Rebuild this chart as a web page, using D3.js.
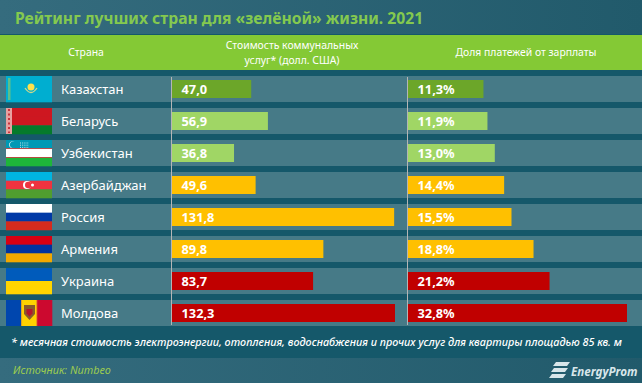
<!DOCTYPE html>
<html>
<head>
<meta charset="utf-8">
<script src="https://cdn.jsdelivr.net/npm/d3@7"></script>
<style>
  html,body{margin:0;padding:0;background:#15586a;overflow:hidden}
  svg{display:block}
  text{font-family:"Noto Sans",sans-serif}
</style>
</head>
<body>
<div class="chart"></div>
<script>
const countries = ["Казахстан","Беларусь","Узбекистан","Азербайджан","Россия","Армения","Украина","Молдова"];
const costs = [47.0,56.9,36.8,49.6,131.8,89.8,83.7,132.3];
const shares = [11.3,11.9,13.0,14.4,15.5,18.8,21.2,32.8];
const barColors = ["#6ca629","#a0d665","#a0d665","#ffc000","#ffc000","#ffc000","#c00000","#c00000"];
const shareColors = ["#6ca629","#a0d665","#a0d665","#ffc000","#ffc000","#ffc000","#c00000","#c00000"];
// horizontal stripes of each flag, top to bottom
const flagStripes = [
  ["#00aed0"],
  ["#ce1720","#ce1720","#057a2b"],
  ["#0099b5","#ffffff","#1eb53a"],
  ["#00b5e2","#ef3340","#509e2f"],
  ["#ffffff","#0039a6","#d52b1e"],
  ["#d90012","#0033a0","#f2a800"],
  ["#005bbb","#ffd500"],
  ["#0046ae","#ffd200","#cc092f"]
];

const chart = {width:642,height:383};

const svg = d3.select(".chart").append("svg")
  .attr("width",chart.width)
  .attr("height",chart.height);

const defs = svg.append("defs");
const grad = defs.append("linearGradient").attr("id","bg");
grad.append("stop").attr("offset","0").attr("stop-color","#356c7e");
grad.append("stop").attr("offset","1").attr("stop-color","#215a6b");

// background bands
svg.append("rect").attr("width",chart.width).attr("height",chart.height).attr("fill","#15586a");
svg.append("rect").attr("width",chart.width).attr("height",34).attr("fill","url(#bg)");
svg.append("rect").attr("y",358).attr("width",chart.width).attr("height",25).attr("fill","url(#bg)");
svg.append("rect").attr("y",35).attr("width",chart.width).attr("height",35).attr("fill","#84c935");

svg.append("text").attr("x",15).attr("y",24)
  .attr("font-size",15.7).attr("font-weight",700).attr("fill","#84c94f")
  .text("Рейтинг лучших стран для «зелёной» жизни. 2021");

// header labels
const head = svg.append("g").attr("fill","#fff").attr("font-size",10.4).attr("text-anchor","middle");
head.append("text").attr("x",86).attr("y",56).text("Страна");
head.append("text").attr("x",292).attr("y",49).text("Стоимость коммунальных");
head.append("text").attr("x",292).attr("y",64).text("услуг* (долл. США)");
head.append("text").attr("x",526).attr("y",56).text("Доля платежей от зарплаты");

// scales
const yScale = d3.scaleBand().domain(countries).range([76,326]).paddingInner(0.1875).paddingOuter(0).align(0);
const xCost = d3.scaleLinear().domain([0,132.3]).range([172,395]);
const xShare = d3.scaleLinear().domain([0,32.8]).range([408,627]);
const fmt = v => d3.format(".1f")(v).replace(".",",");

const rows = svg.selectAll(".row").data(countries).enter().append("g")
  .attr("class","row")
  .attr("transform",d=>`translate(0,${yScale(d)})`);

rows.append("rect").attr("width",chart.width).attr("height",yScale.bandwidth()).attr("fill","#467a87");

// flags
const flagW = 46, flagH = 26;
rows.each(function(d,i){
  const g = d3.select(this).append("g").attr("transform","translate(6,0)");
  const st = flagStripes[i];
  if(i===7){
    const fx = d3.scaleBand().domain(d3.range(3)).range([0,flagW]);
    g.selectAll("rect").data(st).enter().append("rect")
      .attr("x",(c,k)=>fx(k)).attr("width",fx.bandwidth()+.3).attr("height",flagH).attr("fill",c=>c);
  }else{
    const fy = d3.scaleBand().domain(d3.range(st.length)).range([0,flagH]);
    g.selectAll("rect").data(st).enter().append("rect")
      .attr("y",(c,k)=>fy(k)).attr("width",flagW).attr("height",fy.bandwidth()+.3).attr("fill",c=>c);
  }
  if(i===0){ // Казахстан
    g.append("rect").attr("x",2).attr("y",2).attr("width",2.5).attr("height",22).attr("fill","#5fbf8a");
    g.append("circle").attr("cx",25).attr("cy",11).attr("r",3.5).attr("fill","#ffe14a");
    g.append("path").attr("d","M19 12q6 9 12 0").attr("fill","none").attr("stroke","#cfd98a").attr("stroke-width",1.3);
  }
  if(i===1){ // Беларусь
    g.append("rect").attr("width",6).attr("height",26).attr("fill","#e8a0a0");
    g.append("path").attr("d","M3 1v24").attr("stroke","#c9343b").attr("stroke-width",2).attr("stroke-dasharray","2 2.5");
  }
  if(i===2){ // Узбекистан
    g.append("path").attr("d","M8.5 2a3.2 3.2 0 1 0 0 5.5a3.4 3.4 0 1 1 0-5.5").attr("fill","#fff");
    g.append("path").attr("d","M14 3h9M14 5.2h9M14 7.4h9").attr("stroke","#bfe8ee").attr("stroke-width",1).attr("stroke-dasharray","1 1.2");
    g.append("rect").attr("y",8.2).attr("width",flagW).attr("height",.8).attr("fill","#c33");
    g.append("rect").attr("y",17).attr("width",flagW).attr("height",.8).attr("fill","#c33");
  }
  if(i===3){ // Азербайджан
    g.append("circle").attr("cx",21).attr("cy",13).attr("r",4).attr("fill","#fff");
    g.append("circle").attr("cx",22.2).attr("cy",13).attr("r",3.2).attr("fill","#ef3340");
    g.append("circle").attr("cx",26.5).attr("cy",13).attr("r",1.5).attr("fill","#fff");
  }
  if(i===7){ // Молдова
    g.append("path").attr("d","M18 5h11v9l-5.5 6-5.5-6z").attr("fill","#8a5a2c");
    g.append("path").attr("d","M20.5 9h6v4.5l-3 3-3-3z").attr("fill","#b5162c");
    g.append("rect").attr("x",15.3).attr("width",.8).attr("height",26).attr("fill","#f0a020");
    g.append("rect").attr("x",30.4).attr("width",.8).attr("height",26).attr("fill","#f0a020");
  }
});

rows.append("text").attr("x",61).attr("y",18)
  .attr("font-size",13).attr("font-weight",400).attr("fill","#fff").text(d=>d);

// bars
const barH = 18, barTop = 4;
rows.append("rect").attr("x",xCost(0)).attr("y",barTop).attr("height",barH)
  .attr("width",(d,i)=>xCost(costs[i])-xCost(0)).attr("fill",(d,i)=>barColors[i]);
rows.append("rect").attr("x",xShare(0)).attr("y",barTop).attr("height",barH)
  .attr("width",(d,i)=>xShare(shares[i])-xShare(0)).attr("fill",(d,i)=>shareColors[i]);

rows.append("text").attr("x",181.5).attr("y",18)
  .attr("font-size",12.8).attr("font-weight",700).attr("fill","#fff")
  .text((d,i)=>fmt(costs[i]));
rows.append("text").attr("x",417.5).attr("y",18)
  .attr("font-size",12.8).attr("font-weight",700).attr("fill","#fff")
  .text((d,i)=>fmt(shares[i])+"%");

// axis lines
[171.5,407.5].forEach(x=>{
  svg.append("line").attr("x1",x).attr("x2",x).attr("y1",77).attr("y2",325)
    .attr("stroke","#b5b5b5").attr("stroke-width",1);
});

// footnote and source
svg.append("text").attr("x",11).attr("y",346)
  .attr("font-size",10.8).attr("font-style","italic").attr("font-weight",500).attr("fill","#fff")
  .text("* месячная стоимость электроэнергии, отопления, водоснабжения и прочих услуг для квартиры площадью 85 кв. м");
svg.append("text").attr("x",13).attr("y",374)
  .attr("font-size",10.8).attr("font-style","italic").attr("fill","#9ccb50")
  .text("Источник: Numbeo");

// logo
const logo = svg.append("g").attr("fill","#d8e6ea");
["M556 362h14l-3 4h-14z","M554 368h14l-3 4h-14z","M552 374h14l-3 4h-14z"].forEach(p=>logo.append("path").attr("d",p));
logo.append("text").attr("x",571).attr("y",376).attr("font-size",11.6).attr("font-style","italic").attr("font-weight",700)
  .attr("font-family","Roboto").text("EnergyProm");
</script>
</body>
</html>
